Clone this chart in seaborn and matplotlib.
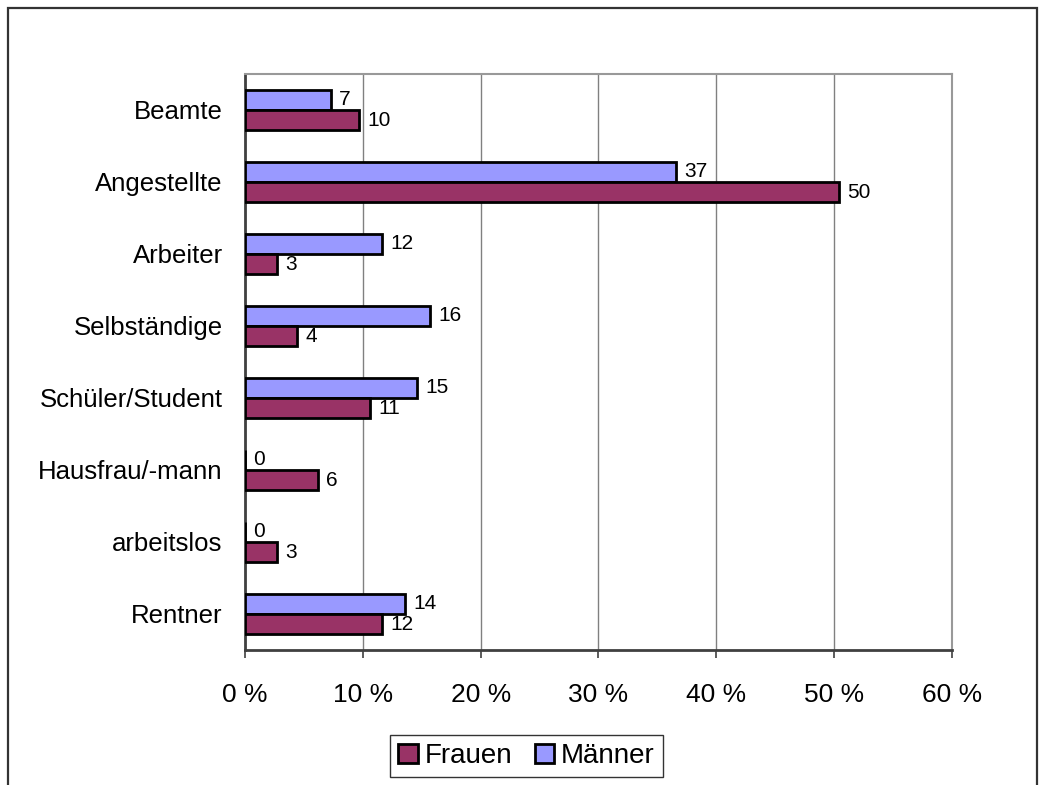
import matplotlib
matplotlib.use("Agg")
import matplotlib.pyplot as plt
from matplotlib.patches import Rectangle, Patch
import numpy as np
import pandas as pd
import seaborn as sns

# Occupation shares (percent) by gender
categories = ["Beamte", "Angestellte", "Arbeiter", "Selbständige",
              "Schüler/Student", "Hausfrau/-mann", "arbeitslos", "Rentner"]
maenner = [7.3, 36.6, 11.6, 15.7, 14.6, 0.0, 0.0, 13.6]
frauen = [9.7, 50.4, 2.7, 4.4, 10.6, 6.2, 2.7, 11.6]
x_ticks = [0, 10, 20, 30, 40, 50, 60]
x_tick_labels = ["0 %", "10 %", "20 %", "30 %", "40 %", "50 %", "60 %"]

col_m = "#9999FF"
col_f = "#993366"

df = pd.DataFrame({
    "Beruf": categories * 2,
    "Anteil": maenner + frauen,
    "Geschlecht": ["Männer"] * len(categories) + ["Frauen"] * len(categories),
})

sns.set_style("white")
plt.rcParams["font.family"] = ["Liberation Sans", "DejaVu Sans"]
plt.rcParams["text.color"] = "black"
plt.rcParams["xtick.labelcolor"] = "black"
plt.rcParams["ytick.labelcolor"] = "black"

fig = plt.figure(figsize=(10.45, 7.85), dpi=100)
ax = fig.add_axes([0.2344, 0.172, 0.6766, 0.7338])

sns.barplot(data=df, y="Beruf", x="Anteil", hue="Geschlecht",
            order=categories, hue_order=["Männer", "Frauen"],
            palette={"Männer": col_m, "Frauen": col_f},
            orient="h", width=0.56, edgecolor="black", linewidth=2.0,
            saturation=1, legend=False, ax=ax, zorder=3)

for cont in ax.containers:
    ax.bar_label(cont, fmt="%.0f", padding=6, fontsize=15, color="black", zorder=4)

ax.set_xlim(0, 60)
ax.set_ylim(len(categories) - 0.5, -0.5)
ax.set_xticks(x_ticks)
ax.set_xticklabels(x_tick_labels, fontsize=19)
ax.set_yticks(range(len(categories)))
ax.set_yticklabels(categories, fontsize=18.5)
ax.set_yticks(np.arange(-0.5, len(categories), 1.0), minor=True)
ax.set_xlabel("")
ax.set_ylabel("")

ax.tick_params(axis="y", which="major", length=0, pad=16)
ax.tick_params(axis="y", which="minor", length=6, width=1.2, color="#404040", direction="out")
ax.tick_params(axis="x", which="major", length=6, width=1.2, color="#404040",
               direction="out", pad=18, bottom=True)

ax.xaxis.grid(True, color="#808080", linewidth=1.0, zorder=0)
ax.yaxis.grid(False)
ax.set_axisbelow(True)

for side in ["left", "bottom"]:
    ax.spines[side].set_color("#404040")
    ax.spines[side].set_linewidth(2.0)
for side in ["top", "right"]:
    ax.spines[side].set_color("#999999")
    ax.spines[side].set_linewidth(1.5)

handles = [Patch(facecolor=col_f, edgecolor="black", linewidth=2.0),
           Patch(facecolor=col_m, edgecolor="black", linewidth=2.0)]
leg = fig.legend(handles, ["Frauen", "Männer"], loc="center",
                 bbox_to_anchor=(0.504, 0.037), ncol=2, fontsize=20,
                 frameon=True, fancybox=False, edgecolor="black",
                 handlelength=0.7, handleheight=0.7, handletextpad=0.25,
                 columnspacing=0.8, borderpad=0.3, borderaxespad=0)
leg.get_frame().set_linewidth(1.0)

# outer chart border, open at the bottom edge
fig.patches.append(Rectangle((8 / 1045, -0.1), (1037 - 8) / 1045, 1.1 - 8 / 785,
                             transform=fig.transFigure, fill=False,
                             edgecolor="#333333", linewidth=1.6))

fig.savefig("out.png", dpi=100)
